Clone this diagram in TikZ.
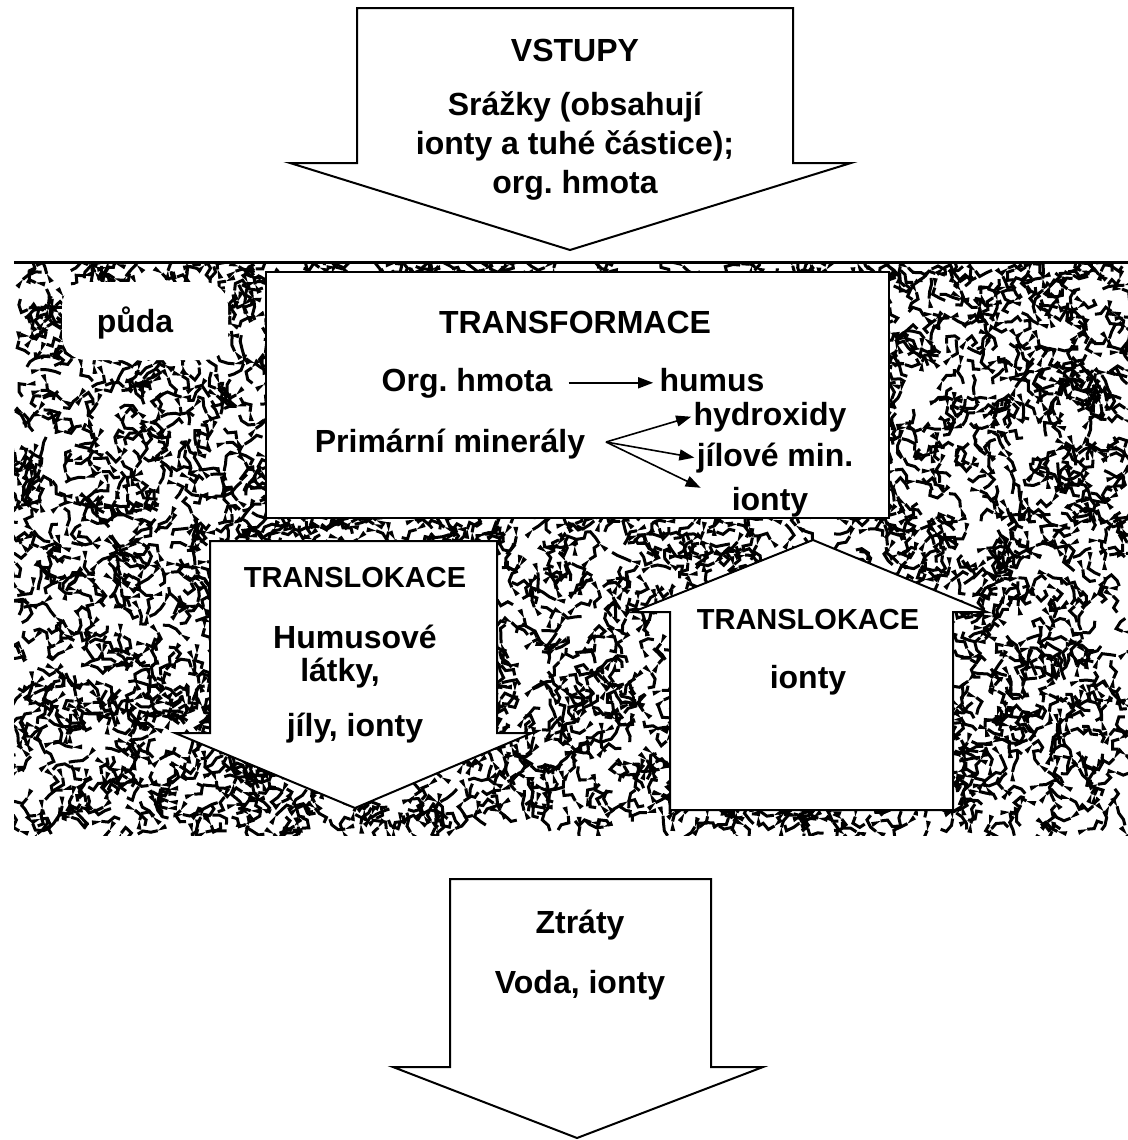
\documentclass[tikz,border=0pt]{standalone}
\usepackage{fontspec}
\setmainfont{Liberation Sans}
\frenchspacing
\usetikzlibrary{arrows, arrows.meta, positioning}

\tikzset{
	txt/.style={font=\bfseries\fontsize{16}{19.5}\selectfont, inner sep=1pt},
	smalltxt/.style={font=\bfseries\fontsize{14.5}{17}\selectfont, inner sep=1pt},
	block/.style={fill=white, draw=black, line width=1pt},
	flow/.style={-{Triangle[length=7.5pt, width=5.5pt]}, line width=0.8pt},
}

\begin{document}
\begin{tikzpicture}[x=0.5pt, y=-0.5pt]

\useasboundingbox (0,0) rectangle (1128,1140);

\def \xl{14}
\def \xr{1128}
\def \yt{262}
\def \yb{835}

% soil texture
\pgfmathsetseed{4213}
\begin{scope}
	\clip (\xl,\yt) rectangle (\xr,\yb);
	\foreach \i in {1,...,3200} {
		\pgfmathsetmacro{\px}{\xl + rnd*(\xr-\xl)}%
		\pgfmathsetmacro{\py}{\yt + rnd*(\yb-\yt)}%
		\pgfmathsetmacro{\pa}{rnd*360}%
		\pgfmathsetmacro{\pb}{\pa + rand*100}%
		\pgfmathsetmacro{\pc}{\pb + rand*100}%
		\draw[line width=1.5pt, line join=miter] (\px,\py) -- ++(\pa:7) -- ++(\pb:8) -- ++(\pc:6);
		\fill (\px,\py) -- ++(\pa+150:10) -- ++(\pa+260:5) -- cycle; % small wedge
	}
\end{scope}
\draw[line width=1.5pt] (\xl,\yt) -- (\xr,\yt); % soil surface

\fill[white, rounded corners=12pt] (62,282) rectangle (228,360);
\node[txt] (puda) at (135,323) {půda};

% inputs
\draw[block] (357,8) -- (793,8) -- (793,163) -- (851,163) -- (570,250) -- (290,163) -- (357,163) -- cycle;
\node[txt] (vstupy) at (575,50) {VSTUPY};
\node[txt, align=center] (srazky) at (575,146) {Srážky (obsahují\\ionty a tuhé částice);\\org. hmota};

% transformation
\draw[block] (266,272) rectangle (889,518);
\node[txt] (transf) at (575,322) {TRANSFORMACE};
\node[txt, anchor=base] (org) at (467,391) {Org. hmota};
\node[txt, anchor=base] (humus) at (712,391) {humus};
\node[txt, anchor=base] (prim) at (450,452) {Primární minerály};
\node[txt, anchor=base] (hydr) at (770,425) {hydroxidy};
\node[txt, anchor=base] (jil) at (775,466) {jílové min.};
\node[txt, anchor=base] (iont) at (770,510) {ionty};
\coordinate (split) at (606,442);

\path (org.east) ++(14,0) coordinate (orgout);
\draw[flow, shorten >=2pt] (orgout) -- (orgout -| humus.west);
\draw[flow] (split) -- (hydr.west);
\draw[flow] (split) -- (jil.west);
\draw[flow, shorten >=16pt] (split) -- (iont.west);

% translocation down
\draw[block] (210,541) -- (497,541) -- (497,733) -- (532,733) -- (355,808) -- (175,733) -- (210,733) -- cycle;
\node[smalltxt] (transl) at (355,578) {TRANSLOKACE};
\node[txt] (humusove) at (355,637) {Humusové};
\node[txt] (latky) at (340,673) {látky,};
\node[txt] (jily) at (355,728) {jíly, ionty};

% translocation up
\draw[block] (670,810) -- (953,810) -- (953,612) -- (987,612) -- (813,540) -- (633,612) -- (670,612) -- cycle;
\node[smalltxt] (transr) at (808,620) {TRANSLOKACE};
\node[txt] (ionty) at (808,680) {ionty};

% losses
\draw[block] (450,879) -- (711,879) -- (711,1067) -- (763,1067) -- (577,1138) -- (393,1067) -- (450,1067) -- cycle;
\node[txt] (ztraty) at (580,925) {Ztráty};
\node[txt] (voda) at (580,985) {Voda, ionty};

\end{tikzpicture}
\end{document}
